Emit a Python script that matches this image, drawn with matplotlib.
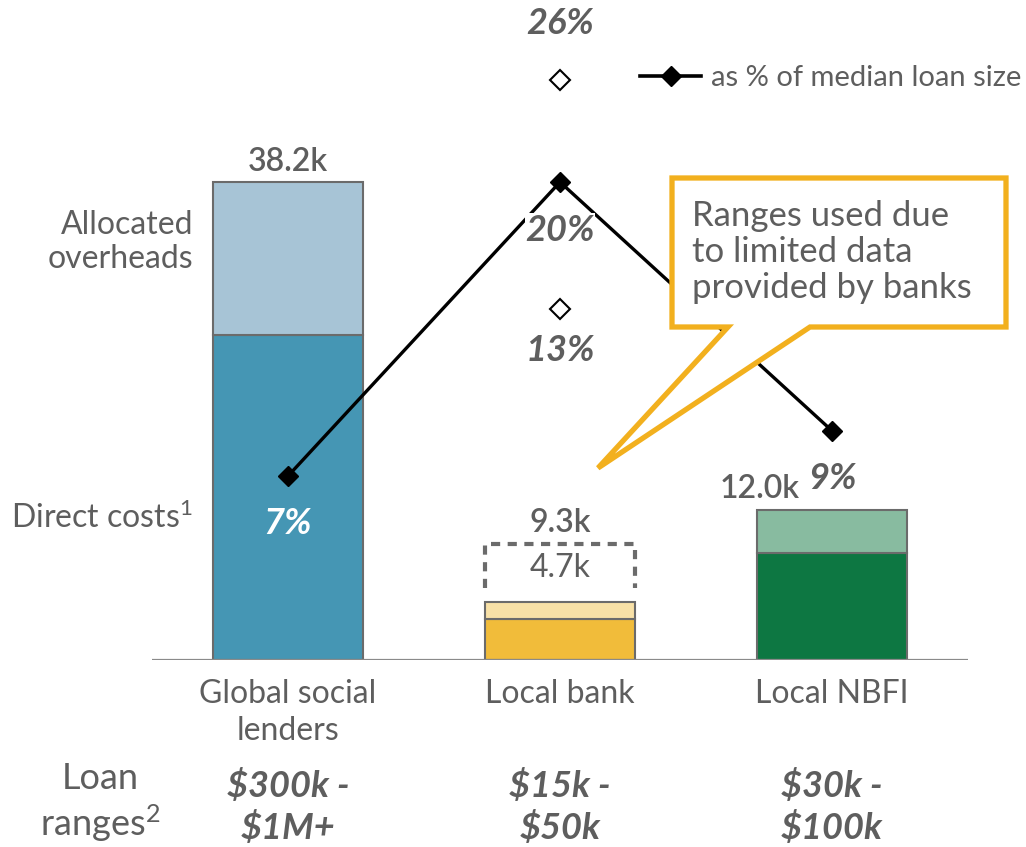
import matplotlib
matplotlib.use("Agg")
import matplotlib.pyplot as plt
from matplotlib.lines import Line2D
from matplotlib.patches import Polygon

plt.rcParams['font.family'] = ['Lato', 'DejaVu Sans']
plt.rcParams['mathtext.fontset'] = 'custom'
plt.rcParams['mathtext.rm'] = 'Lato'
plt.rcParams['mathtext.it'] = 'Lato:italic'
plt.rcParams['mathtext.bf'] = 'Lato:bold'

# ---- data ----
categories = ["Global social\nlenders", "Local bank", "Local NBFI"]
direct_costs = [26.0, 3.3, 8.55]          # $k
overheads = [12.2, 1.3, 3.45]             # $k
total_labels = ["38.2k", "9.3k", "12.0k"]
bank_range_high = 9.3                     # $k upper estimate for local bank
bank_range_label = "4.7k"
pct_median = [7, 20, 9]                   # % of median loan size
bank_pct_range = [13, 26]                 # % range for local bank
loan_ranges = ["$300k -\n$1M+", "$15k -\n$50k", "$30k -\n$100k"]

dark_colors = ["#4596B4", "#F1BC3A", "#0D7742"]
light_colors = ["#A7C4D6", "#F8E1A7", "#88BBA0"]
txt = "#5E5E5E"
edge = "#6B6B6B"
gold = "#F2B01E"

W, H = 1026, 847
fig = plt.figure(figsize=(W / 100, H / 100), dpi=100)

def fx(px):
    return px / W

def fy(py):
    return 1 - py / H

ax_l, ax_r, ax_b, ax_t = 152, 968, 660, 0
ax = fig.add_axes([fx(ax_l), fy(ax_b), fx(ax_r) - fx(ax_l), fy(ax_t) - fy(ax_b)])
x = list(range(len(categories)))
bw = 0.555
ax.bar(x, direct_costs, width=bw, color=dark_colors, edgecolor=edge, linewidth=1.5, zorder=2)
ax.bar(x, overheads, bottom=direct_costs, width=bw, color=light_colors, edgecolor=edge,
       linewidth=1.5, zorder=2)
ax.set_xlim(-0.5, 2.5)
ax.set_ylim(0, 52.76)
ax.axhline(0, color="#8A8A8A", lw=1.6, zorder=3)
for s in ax.spines.values():
    s.set_visible(False)
ax.set_yticks([])
ax.set_xticks(x)
ax.set_xticklabels(categories, fontsize=23, color=txt, linespacing=1.27)
ax.tick_params(axis='x', length=0, pad=14)

totals = [d + o for d, o in zip(direct_costs, overheads)]
lab_kw = dict(va='bottom', fontsize=23, fontweight='semibold', color=txt)
ax.text(0, totals[0] + 0.45, total_labels[0], ha='center', **lab_kw)
ax.text(1, bank_range_high + 0.45, total_labels[1], ha='center', **lab_kw)
ax.text(2 - 0.12, totals[2] + 0.45, total_labels[2], ha='right', **lab_kw)

# dashed range box for the local bank
gap_low = totals[1] + 1.15
xl, xr = 1 - bw / 2, 1 + bw / 2
ax.plot([xl, xl, xr, xr], [gap_low, bank_range_high, bank_range_high, gap_low],
        color=edge, lw=3, ls=(0, (2.2, 1.8)), zorder=3)
ax.text(1, (gap_low + bank_range_high) / 2 - 0.15, bank_range_label, ha='center', va='center',
        fontsize=23, color=txt)

pct_kw = dict(textcoords='offset points', ha='center', va='center', fontsize=26,
              fontweight='bold', fontstyle='italic')

# percent line
ax2 = ax.twinx()
ax2.set_ylim(-1.136, 28.05)
ax2.axis('off')
ax2.plot(x, pct_median, color='black', lw=2.4, marker='D', markersize=10, zorder=4)
ax2.annotate(f"{pct_median[0]}%", (0, pct_median[0]), xytext=(0, -34), color='white', **pct_kw)
ax2.annotate(f"{pct_median[1]}%", (1, pct_median[1]), xytext=(0, -35), color=txt,
             bbox=dict(facecolor='white', edgecolor='none', pad=0.5), zorder=5, **pct_kw)
ax2.annotate(f"{pct_median[2]}%", (2, pct_median[2]), xytext=(0, -34), color=txt, **pct_kw)

# hollow range markers
ax3 = ax.twinx()
ax3.set_ylim(-6.93, 30.54)
ax3.axis('off')
ax3.plot([1, 1], bank_pct_range, ls='none', marker='D', markersize=10, mfc='white',
         mec='black', mew=1.5, zorder=4)
ax3.annotate(f"{bank_pct_range[0]}%", (1, bank_pct_range[0]), xytext=(0, -30), color=txt, **pct_kw)
ax3.annotate(f"{bank_pct_range[1]}%", (1, bank_pct_range[1]), xytext=(0, 41), color=txt, **pct_kw)

# legend
h = Line2D([], [], color='black', lw=2.6, marker='D', markersize=10)
fig.legend([h], ["as % of median loan size"], loc='center left',
           bbox_to_anchor=(fx(640), fy(78)), frameon=False, fontsize=21, handlelength=2.1,
           handletextpad=0.35, borderpad=0, borderaxespad=0, labelcolor=txt)

# left labels
fig.text(fx(193), fy(242), "Allocated\noverheads", ha='right', va='center', fontsize=23,
         color=txt, linespacing=1.15)
fig.text(fx(193), fy(518), r"Direct costs$^\mathrm{1}$", ha='right', va='center', fontsize=23,
         color=txt)

# loan ranges row
fig.text(fx(100), fy(803), "Loan\nranges$^\\mathrm{2}$", ha='center', va='center', fontsize=26,
         color=txt, linespacing=1.25)
for i, lr in enumerate(loan_ranges):
    xpx = ax.transData.transform((i, 0))[0]
    fig.text(xpx / W, fy(807), lr.replace("$", r"\$"), ha='center', va='center', fontsize=26,
             fontweight='bold', fontstyle='italic', color=txt, linespacing=1.27)

# callout
pts_px = [(672, 178), (1006, 178), (1006, 327), (810, 327), (598, 468), (728, 327), (672, 327)]
callout = Polygon([(fx(px), fy(py)) for px, py in pts_px], closed=True,
                  transform=fig.transFigure, facecolor='white', edgecolor=gold, lw=3.8,
                  joinstyle='miter', zorder=10)
fig.add_artist(callout)
fig.text(fx(692), fy(252), "Ranges used due\nto limited data\nprovided by banks",
         ha='left', va='center', fontsize=25, color=txt, linespacing=1.15, zorder=11)

fig.savefig("out.png", dpi=100)
